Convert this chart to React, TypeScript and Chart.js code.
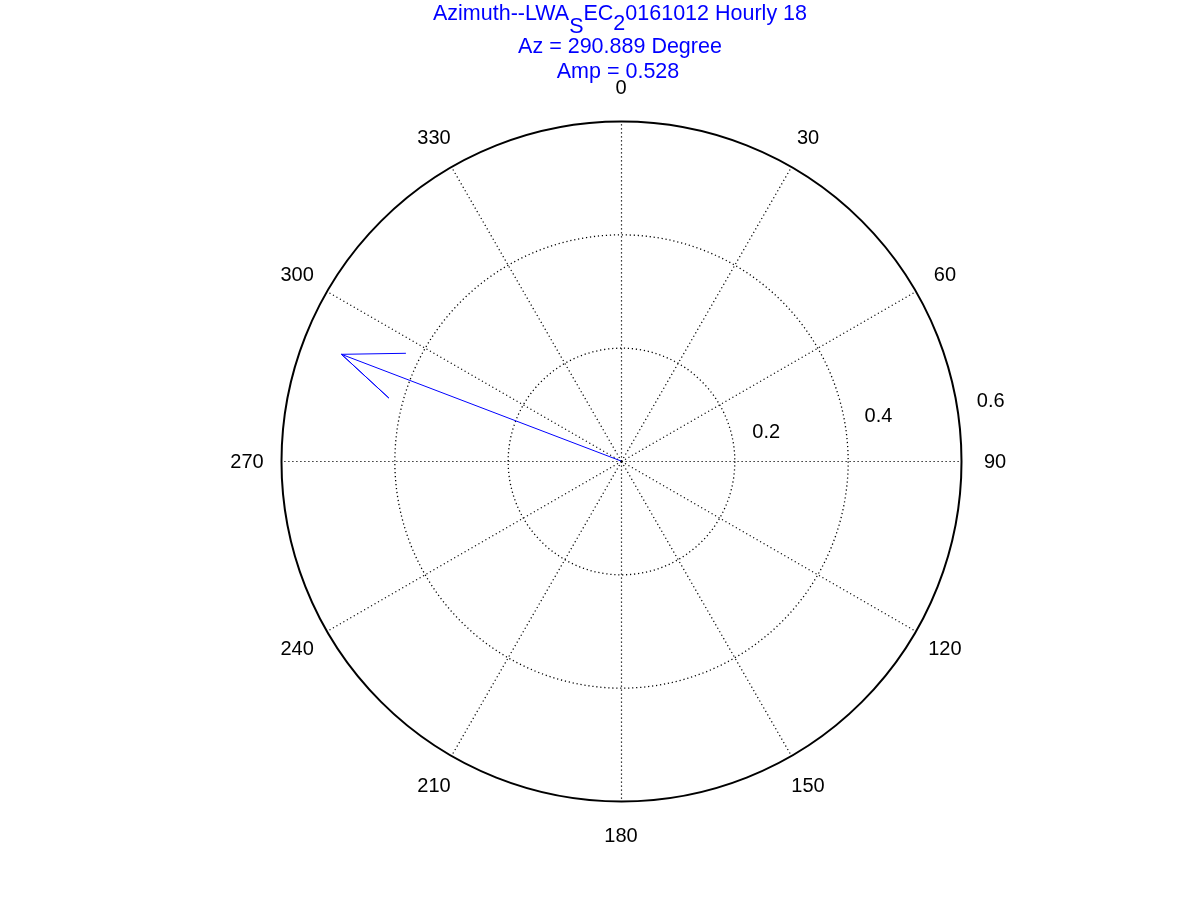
import React, { useEffect, useRef } from 'react';
import { Chart, registerables } from 'chart.js';

Chart.register(...registerables);

// ---- data ----
const AZIMUTH_DEG = [290.889];
const AMPLITUDE = [0.528];
const RING_VALUES = [0.2, 0.4, 0.6];
const RING_LABELS = ['0.2', '0.4', '0.6'];
const SPOKE_ANGLES = [0, 30, 60, 90, 120, 150, 180, 210, 240, 270, 300, 330];
const ANGLE_LABELS = ['0', '30', '60', '90', '120', '150', '180', '210', '240', '270', '300', '330'];
const TITLE_LINE1 = [
  { text: 'Azimuth--LWA', sub: false },
  { text: 'S', sub: true },
  { text: 'EC', sub: false },
  { text: '2', sub: true },
  { text: '0161012 Hourly 18', sub: false },
];
const TITLE_LINE2 = 'Az = 290.889 Degree';
const TITLE_LINE3 = 'Amp = 0.528';

const R_MAX = RING_VALUES[RING_VALUES.length - 1];
const FONT = '"Liberation Sans", Arial, Helvetica, sans-serif';
const BLUE = 'rgb(0,0,255)';

function toXY(ampl: number, azDeg: number) {
  const t = (azDeg * Math.PI) / 180;
  return { x: ampl * Math.sin(t), y: ampl * Math.cos(t) };
}

// arrow polyline (MATLAB compass style): 0 -> tip -> head1 -> tip -> head2
function arrowPoints(ampl: number, azDeg: number) {
  const z = toXY(ampl, azDeg);
  const h1 = { x: 0.8 * z.x - 0.08 * z.y, y: 0.8 * z.y + 0.08 * z.x };
  const h2 = { x: 0.8 * z.x + 0.08 * z.y, y: 0.8 * z.y - 0.08 * z.x };
  return [{ x: 0, y: 0 }, z, h1, z, h2];
}

const compassPlugin = {
  id: 'compassGrid',
  beforeDatasetsDraw(chart: any) {
    const { ctx, scales } = chart;
    const xs = scales.x;
    const ys = scales.y;
    const cx = xs.getPixelForValue(0);
    const cy = ys.getPixelForValue(0);
    const pxPerUnit = xs.getPixelForValue(1) - cx;
    const R = R_MAX * pxPerUnit;
    ctx.save();
    ctx.strokeStyle = '#000';
    ctx.setLineDash([1.2, 2.8]);
    ctx.lineWidth = 1.3;
    // dotted rings
    RING_VALUES.forEach((v) => {
      if (v >= R_MAX) return;
      ctx.beginPath();
      ctx.arc(cx + 0.5, cy + 0.5, v * pxPerUnit, 0, Math.PI * 2);
      ctx.stroke();
    });
    // dotted spokes
    ctx.lineWidth = 1.2;
    SPOKE_ANGLES.forEach((a) => {
      const p = toXY(R_MAX, a);
      ctx.beginPath();
      ctx.moveTo(cx + 0.5, cy + 0.5);
      ctx.lineTo(xs.getPixelForValue(p.x) + 0.5, ys.getPixelForValue(p.y) + 0.5);
      ctx.stroke();
    });
    // solid outer circle
    ctx.setLineDash([]);
    ctx.lineWidth = 2;
    ctx.beginPath();
    ctx.arc(cx + 0.5, cy + 0.5, R, 0, Math.PI * 2);
    ctx.stroke();
    ctx.restore();
  },
  afterDraw(chart: any) {
    const { ctx, scales } = chart;
    const xs = scales.x;
    const ys = scales.y;
    const cx = xs.getPixelForValue(0);
    const cy = ys.getPixelForValue(0);
    const pxPerUnit = xs.getPixelForValue(1) - cx;
    ctx.save();
    // angle labels
    ctx.fillStyle = '#000';
    ctx.font = `20px ${FONT}`;
    ctx.textAlign = 'center';
    ctx.textBaseline = 'alphabetic';
    SPOKE_ANGLES.forEach((a, i) => {
      const p = toXY(R_MAX * 1.1, a);
      const px = xs.getPixelForValue(p.x);
      const py = ys.getPixelForValue(p.y);
      ctx.fillText(ANGLE_LABELS[i], px, py + 7);
    });
    // ring labels
    const ang = (8 * Math.PI) / 180;
    RING_VALUES.forEach((v, i) => {
      const r = v * pxPerUnit;
      const px = cx + r * Math.cos(ang) + 33;
      const py = cy - r * Math.sin(ang) - 14;
      ctx.fillText(RING_LABELS[i], px, py + 7);
    });
    // title
    ctx.fillStyle = BLUE;
    ctx.font = `21.5px ${FONT}`;
    const centerX = 620;
    let total = 0;
    TITLE_LINE1.forEach((s) => (total += ctx.measureText(s.text).width));
    let x = centerX - total / 2;
    ctx.textAlign = 'left';
    TITLE_LINE1.forEach((s, i) => {
      const off = s.sub ? (i === 1 ? 13 : 10) : 0;
      ctx.fillText(s.text, x, 20 + off);
      x += ctx.measureText(s.text).width;
    });
    ctx.textAlign = 'center';
    ctx.fillText(TITLE_LINE2, centerX, 53);
    ctx.fillText(TITLE_LINE3, centerX - 2, 78);
    ctx.restore();
  },
};

export default function App() {
  const ref = useRef<HTMLCanvasElement | null>(null);
  useEffect(() => {
    if (!ref.current) return;
    const arrows = AMPLITUDE.map((a, i) => ({
      data: arrowPoints(a, AZIMUTH_DEG[i]),
      showLine: true,
      borderColor: BLUE,
      borderWidth: 1,
      pointRadius: 0,
      tension: 0,
      fill: false,
      clip: false as any,
    }));
    const chart = new Chart(ref.current, {
      type: 'scatter',
      data: { datasets: arrows as any },
      options: {
        responsive: false,
        animation: false,
        devicePixelRatio: 1,
        layout: { padding: { left: 281, right: 240, top: 121, bottom: 100 } },
        scales: {
          x: { type: 'linear', min: -R_MAX, max: R_MAX, display: false },
          y: { type: 'linear', min: -R_MAX, max: R_MAX, display: false },
        },
        plugins: { legend: { display: false }, tooltip: { enabled: false }, title: { display: false } },
      },
      plugins: [compassPlugin],
    });
    return () => chart.destroy();
  }, []);
  return (
    <div style={{ position: 'fixed', left: 0, top: 0, width: 1201, height: 901, background: '#fff' }}>
      <canvas ref={ref} width={1201} height={901} style={{ display: 'block' }} />
    </div>
  );
}
